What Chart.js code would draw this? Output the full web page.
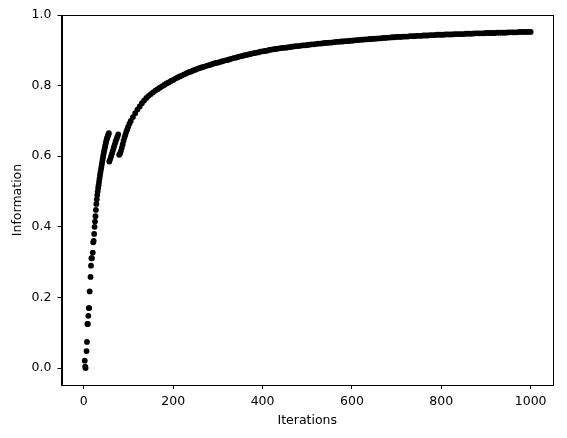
<!DOCTYPE html>
<html>
<head>
<meta charset="utf-8">
<script src="https://cdn.jsdelivr.net/npm/chart.js@4.4.1/dist/chart.umd.min.js"></script>
<style>
  html, body { margin: 0; padding: 0; background: #fff; }
  #wrap { width: 567px; height: 438px; position: relative; }
</style>
</head>
<body>
<div id="wrap"><canvas id="c"></canvas></div>
<script>
// ---- data ----
const iterations = [
  2,3,4,6,7,8,9,10,11,12,
  13,15,16,17,18,20,21,
  22,23,24,25,26,27,28,29,30,31,
  32,33,34,35,36,37,38,39,40,41,
  42,43,44,45,46,47,48,49,50,51,
  52,53,54,55,56,
  57,59,61,63,65,67,69,71,73,75,77,
  79,81,83,85,87,89,91,93,95,97,99,102,
  105,110,115,120,125,130,135,140,145,150,
  155,160,165,170,175,180,185,190,195,200,
  205,210,215,220,225,230,235,240,245,250,
  255,260,265,270,275,280,285,290,295,300,
  305,310,315,320,325,330,335,340,345,350,
  355,360,365,370,375,380,385,390,395,400,
  405,410,415,420,425,430,435,440,445,450,
  455,460,465,470,475,480,485,490,495,500,
  505,510,515,520,525,530,535,540,545,550,
  555,560,565,570,575,580,585,590,595,600,
  605,610,615,620,625,630,635,640,645,650,
  655,660,665,670,675,680,685,690,695,700,
  705,710,715,720,725,730,735,740,745,750,
  755,760,765,770,775,780,785,790,795,800,
  805,810,815,820,825,830,835,840,845,850,
  855,860,865,870,875,880,885,890,895,900,
  905,910,915,920,925,930,935,940,945,950,
  955,960,965,970,975,980,985,990,995,1000
];
const information = [
  0.021,0.004,0.000,0.048,0.074,0.125,0.125,0.148,0.170,0.170,
  0.217,0.258,0.290,0.311,0.311,0.327,0.356,
  0.360,0.380,0.400,0.415,0.430,0.448,0.465,0.478,0.490,0.500,
  0.510,0.518,0.527,0.536,0.545,0.553,0.560,0.568,0.575,0.583,
  0.590,0.598,0.605,0.612,0.618,0.624,0.630,0.636,0.642,0.647,
  0.651,0.655,0.658,0.662,0.665,
  0.585,0.592,0.600,0.608,0.616,0.625,0.633,0.641,0.648,0.655,0.662,
  0.604,0.608,0.615,0.624,0.634,0.644,0.653,0.661,0.669,0.676,0.683,0.692,
  0.700,0.711,0.722,0.732,0.741,0.750,0.758,0.765,0.771,0.776,
  0.781,0.786,0.790,0.794,0.798,0.802,0.806,0.809,0.813,0.816,
  0.820,0.823,0.826,0.829,0.832,0.835,0.838,0.840,0.843,0.845,
  0.848,0.850,0.852,0.854,0.856,0.858,0.860,0.862,0.864,0.865,
  0.867,0.869,0.871,0.872,0.874,0.876,0.878,0.879,0.881,0.883,
  0.884,0.886,0.887,0.889,0.890,0.892,0.893,0.894,0.896,0.897,
  0.898,0.899,0.901,0.902,0.903,0.904,0.905,0.906,0.907,0.907,
  0.908,0.909,0.910,0.911,0.912,0.912,0.913,0.914,0.914,0.915,
  0.916,0.917,0.917,0.918,0.919,0.919,0.920,0.921,0.921,0.922,
  0.922,0.923,0.924,0.924,0.925,0.925,0.926,0.926,0.927,0.927,
  0.928,0.929,0.929,0.930,0.930,0.931,0.931,0.932,0.932,0.933,
  0.933,0.934,0.934,0.935,0.935,0.936,0.936,0.937,0.937,0.938,
  0.938,0.938,0.939,0.939,0.939,0.940,0.940,0.940,0.941,0.941,
  0.941,0.942,0.942,0.942,0.943,0.943,0.943,0.944,0.944,0.944,
  0.944,0.945,0.945,0.945,0.945,0.946,0.946,0.946,0.946,0.946,
  0.947,0.947,0.947,0.947,0.948,0.948,0.948,0.948,0.948,0.949,
  0.949,0.949,0.949,0.949,0.950,0.950,0.950,0.950,0.950,0.951,
  0.951,0.951,0.951,0.951,0.952,0.952,0.952,0.952,0.952,0.952
];
const xTickValues = [0, 200, 400, 600, 800, 1000];
const yTickValues = [0.0, 0.2, 0.4, 0.6, 0.8, 1.0];
const xTitle = 'Iterations';
const yTitle = 'Information';

// ---- chart ----
const points = iterations.map((x, i) => ({ x: x, y: information[i] }));
const FONT = { family: 'DejaVu Sans', size: 12.5 };

const frame = {
  id: 'frame',
  afterDraw(chart) {
    const { ctx, chartArea: a } = chart;
    ctx.save();
    ctx.strokeStyle = '#000';
    ctx.lineWidth = 1;
    ctx.strokeRect(Math.round(a.left) + 0.5, Math.round(a.top) + 0.5,
                   Math.round(a.right - a.left) - 1, Math.round(a.bottom - a.top));
    ctx.restore();
  }
};

new Chart(document.getElementById('c'), {
  type: 'scatter',
  data: {
    datasets: [{
      data: points,
      pointRadius: 2.9,
      pointHoverRadius: 2.9,
      backgroundColor: '#000',
      borderWidth: 0,
      showLine: false
    }]
  },
  options: {
    responsive: true,
    maintainAspectRatio: false,
    animation: false,
    events: [],
    layout: { padding: { top: 15, right: 14, left: 0, bottom: 0 } },
    plugins: { legend: { display: false }, tooltip: { enabled: false } },
    scales: {
      x: {
        type: 'linear',
        min: -50,
        max: 1050,
        afterBuildTicks: (s) => { s.ticks = xTickValues.map(v => ({ value: v })); },
        afterFit: (s) => { s.height = 53; },
        ticks: { color: '#000', font: FONT, padding: 5, maxRotation: 0, autoSkip: false,
                 callback: (v) => String(v) },
        grid: { drawOnChartArea: false, drawTicks: true, tickLength: 4, color: '#000', lineWidth: 1 },
        border: { display: true, color: '#000', width: 1 },
        title: { display: true, text: xTitle, color: '#000', font: FONT, padding: { top: 0, bottom: 9.5 } }
      },
      y: {
        type: 'linear',
        min: -0.048,
        max: 1.0,
        afterBuildTicks: (s) => { s.ticks = yTickValues.map(v => ({ value: v })); },
        afterFit: (s) => { s.width = 61.5; },
        ticks: { color: '#000', font: FONT, padding: 6, autoSkip: false,
                 callback: (v) => Number(v).toFixed(1) },
        grid: { drawOnChartArea: false, drawTicks: true, tickLength: 4, color: '#000', lineWidth: 1 },
        border: { display: true, color: '#000', width: 1 },
        title: { display: true, text: yTitle, color: '#000', font: FONT, padding: { top: 10, bottom: 0 } }
      }
    }
  },
  plugins: [frame]
});
</script>
</body>
</html>
